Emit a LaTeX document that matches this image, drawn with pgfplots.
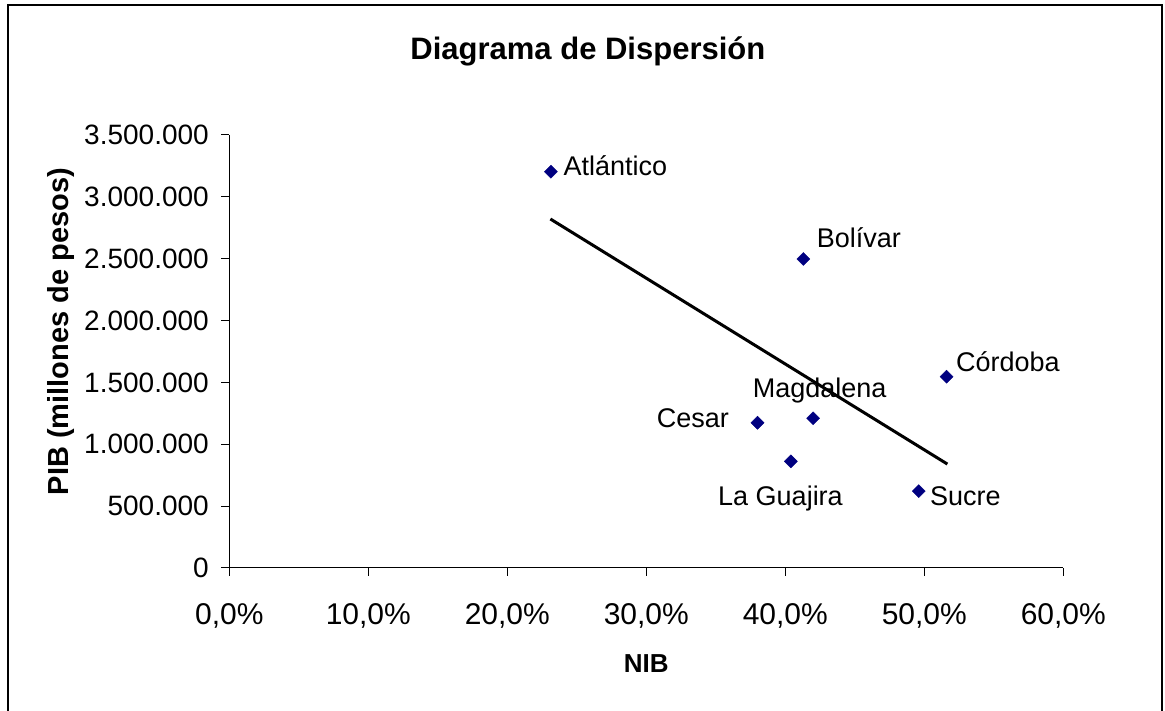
\documentclass[border=0pt]{standalone}
\usepackage{pgfplots}
\pgfplotsset{compat=1.18}
\usepackage{fontspec}
\setmainfont{Liberation Sans}
\definecolor{navy}{HTML}{000080}
\begin{document}
\begin{tikzpicture}[x=1pt,y=1pt]
\path[use as bounding box] (0,0) rectangle (1165,711);
\clip (0,0) rectangle (1165,711);
\draw[line width=2.5pt] (8,-20) -- (8,706) -- (1162,706) -- (1162,-20);
\begin{axis}[
  at={(229.3pt,143pt)}, anchor=south west,
  scale only axis, width=834pt, height=433pt,
  xmin=0, xmax=60, ymin=0, ymax=3500000,
  axis x line*=bottom, axis y line*=left,
  axis line style={-, line width=1pt, black},
  tick align=outside, major tick length=8pt,
  every tick/.style={black, line width=1pt},
  xtick={0,10,20,30,40,50,60},
  xticklabels={{0,0\%},{10,0\%},{20,0\%},{30,0\%},{40,0\%},{50,0\%},{60,0\%}},
  ytick={0,500000,1000000,1500000,2000000,2500000,3000000,3500000},
  scaled y ticks=false,
  /pgf/number format/.cd, fixed, 1000 sep={.}, assume math mode=true, /pgfplots/.cd,
  yticklabel style={font=\fontsize{28}{28}\selectfont, xshift=-9pt},
  xticklabel style={font=\fontsize{30}{30}\selectfont, yshift=-24pt},
  xlabel={\textbf{NIB}},
  xlabel style={font=\fontsize{26}{26}\selectfont, at={(axis description cs:0.5,0)}, anchor=base, yshift=-105pt},
  ylabel={\textbf{PIB (millones de pesos)}},
  ylabel style={font=\fontsize{29}{29}\selectfont, at={(axis description cs:-0.2020,0.546)}, anchor=center},
  title={\textbf{Diagrama de Dispersión}},
  title style={font=\fontsize{31}{31}\selectfont, at={(axis description cs:0.430,1.160)}, anchor=base},
  clip=false,
]
\addplot[black, line width=3pt] coordinates {(23.1,2821000) (51.66,840000)};
\addplot[only marks, mark=square*, mark size=4.6pt, mark options={rotate=45, fill=navy, draw=navy}] coordinates {
(23.14,3203000) (41.3,2498000) (51.6,1546000) (38.0,1174000) (42.0,1210000) (40.4,862000) (49.6,622000)};
\begin{scope}[every node/.style={font=\fontsize{27}{27}\selectfont, anchor=base west, inner sep=0pt}]
\node at (axis cs:24.03,3176500) {Atlántico};
\node at (axis cs:42.26,2594600) {Bolívar};
\node at (axis cs:52.28,1586700) {Córdoba};
\node at (axis cs:30.75,1137200) {Cesar};
\node at (axis cs:37.65,1379700) {Magdalena};
\node at (axis cs:35.16,503600) {La Guajira};
\node at (axis cs:50.41,503600) {Sucre};
\end{scope}
\end{axis}
\end{tikzpicture}
\end{document}
